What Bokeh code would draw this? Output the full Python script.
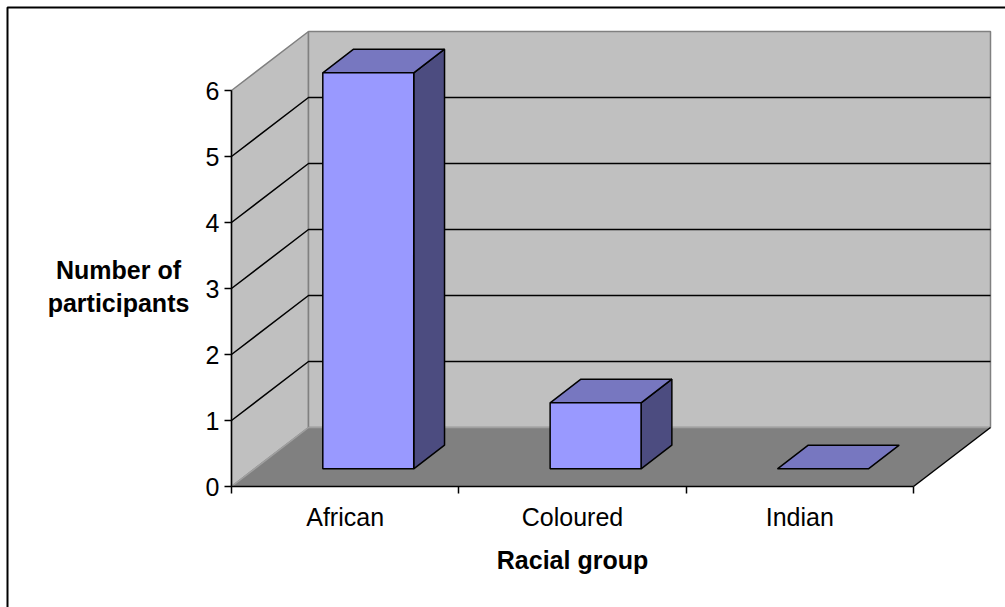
from bokeh.plotting import figure
from bokeh.models import LinearAxis, FixedTicker, Range1d
from bokeh.embed import file_html
from bokeh.resources import INLINE
from bokeh.core.properties import value

# ---- data ----
categories = ["African", "Coloured", "Indian"]
participants = [6, 1, 0]
y_ticks = [0, 1, 2, 3, 4, 5, 6]
x_title = "Racial group"
y_title = "Number of\nparticipants"

# ---- layout constants (pixels) ----
W, H = 1005, 607
OX, OY = 231, 486          # canvas pixel of the chart origin
PXX = 682 / 3              # pixels per category
PXY = 66.0                 # pixels per unit
DX, DY = 77 / PXX, 59 / PXY  # depth offset in data units
FONT = "Liberation Sans"
FS = "25px"

def proj(x, y, z):
    return x + z * DX, y + z * DY

def poly(pts):
    xs, ys = zip(*[proj(*p) for p in pts])
    return list(xs), list(ys)

n = len(categories)
ytop = max(y_ticks)

x_range = Range1d(-OX / PXX, (W - OX) / PXX)
y_range = Range1d(-(H - OY) / PXY, OY / PXY)

p = figure(width=W, height=H, x_range=x_range, y_range=y_range,
           x_axis_location=None, y_axis_location=None,
           toolbar_location=None, output_backend="svg", min_border=0)
p.outline_line_color = None
p.background_fill_color = "white"
p.border_fill_color = "white"
p.grid.visible = False

# walls
side = poly([(0, 0, 0), (0, ytop, 0), (0, ytop, 1), (0, 0, 1)])
back = poly([(0, 0, 1), (0, ytop, 1), (n, ytop, 1), (n, 0, 1)])
floor = poly([(0, 0, 0), (n, 0, 0), (n, 0, 1), (0, 0, 1)])
p.patches(xs=[side[0], back[0]], ys=[side[1], back[1]],
          fill_color="#C0C0C0", line_color="#808080", line_width=1.5)
p.patch(floor[0], floor[1], fill_color="#808080", line_color=None)

# floor edges
e = poly([(0, 0, 0), (0, 0, 1), (n, 0, 1)])
p.line(e[0], e[1], line_color="#A0A0A0", line_width=1.5)
e = poly([(n, 0, 0), (n, 0, 1)])
p.line(e[0], e[1], line_color="black", line_width=1.5)

# gridlines (side + back wall)
gx, gy = [], []
for v in y_ticks[1:-1]:
    g = poly([(0, v, 0), (0, v, 1), (n, v, 1)])
    gx.append(g[0]); gy.append(g[1])
p.multi_line(gx, gy, line_color="black", line_width=1.5)

# bars
fx, fy, tx, ty, sx, sy = [], [], [], [], [], []
for i, v in enumerate(participants):
    x0, x1 = i + 0.3, i + 0.7
    z0, z1 = 0.3, 0.7
    t = poly([(x0, v, z0), (x1, v, z0), (x1, v, z1), (x0, v, z1)])
    tx.append(t[0]); ty.append(t[1])
    if v > 0:
        f = poly([(x0, 0, z0), (x1, 0, z0), (x1, v, z0), (x0, v, z0)])
        s = poly([(x1, 0, z0), (x1, 0, z1), (x1, v, z1), (x1, v, z0)])
        fx.append(f[0]); fy.append(f[1])
        sx.append(s[0]); sy.append(s[1])
p.patches(sx, sy, fill_color="#4C4C80", line_color="black", line_width=1.5)
p.patches(tx, ty, fill_color="#7777C0", line_color="black", line_width=1.5)
p.patches(fx, fy, fill_color="#9999FF", line_color="black", line_width=1.5)

# axes
yaxis = LinearAxis(fixed_location=0, bounds=(0, ytop),
                   ticker=FixedTicker(ticks=y_ticks),
                   major_tick_out=7, major_tick_in=0,
                   minor_tick_out=0, minor_tick_in=0,
                   axis_line_color="black", axis_line_width=1.5,
                   major_tick_line_color="black", major_tick_line_width=1.5,
                   major_label_text_font=FONT, major_label_text_font_size=FS,
                   major_label_text_color="black", major_label_standoff=5)
p.add_layout(yaxis, "left")

centers = [i + 0.5 for i in range(n)]
xaxis = LinearAxis(fixed_location=0, bounds=(0, n),
                   ticker=FixedTicker(ticks=centers, minor_ticks=list(range(n + 1))),
                   major_label_overrides={c: lab for c, lab in zip(centers, categories)},
                   major_tick_out=0, major_tick_in=0, major_tick_line_color=None,
                   minor_tick_out=7, minor_tick_in=0,
                   minor_tick_line_color="black", minor_tick_line_width=1.5,
                   axis_line_color="black", axis_line_width=1.5,
                   major_label_text_font=FONT, major_label_text_font_size=FS,
                   major_label_text_color="black", major_label_standoff=9)
p.add_layout(xaxis, "below")

# titles
p.text(x=[-0.497], y=[3.03], text=[y_title], text_font=value(FONT),
       text_font_style="bold", text_font_size=FS, text_align="center",
       text_baseline="middle", text_color="black")
p.text(x=[n / 2], y=[-1.11], text=[x_title], text_font=value(FONT),
       text_font_style="bold", text_font_size=FS, text_align="center",
       text_baseline="middle", text_color="black")

# outer border (top and left visible)
bx = x_range.start + 7 / PXX
by = y_range.end - 7 / PXY
p.line([bx, bx, x_range.end], [y_range.start, by, by], line_color="black", line_width=2)

open("out.html", "w").write(file_html(p, INLINE))
